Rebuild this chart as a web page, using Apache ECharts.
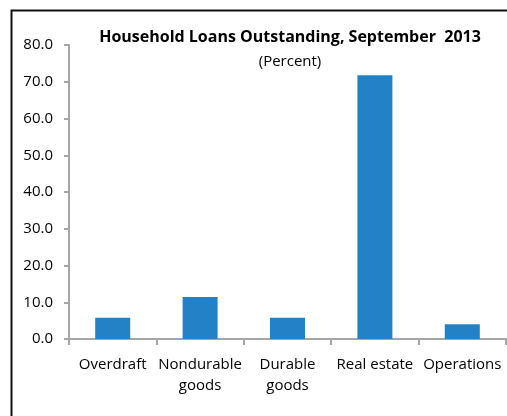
<!DOCTYPE html>
<html>
<head>
<meta charset="utf-8">
<script src="https://cdn.jsdelivr.net/npm/echarts@6/dist/echarts.min.js"></script>
<style>
  html, body { margin: 0; padding: 0; background: #fff; }
  #chart { width: 507px; height: 416px; }
</style>
</head>
<body>
<div id="chart"></div>
<script>
// Household loan composition (percent of total outstanding)
const categories = ['Overdraft', 'Nondurable\ngoods', 'Durable\ngoods', 'Real estate', 'Operations'];
const shares = [5.8, 11.4, 5.8, 71.8, 4.0];
const yTicks = { min: 0, max: 80, interval: 10 };

const FONT = '"Open Sans", "Noto Sans", sans-serif';
const chart = echarts.init(document.getElementById('chart'), null, { renderer: 'canvas' });

chart.setOption({
  animation: false,
  title: [
    {
      text: 'Household Loans Outstanding, September  2013',
      left: 285, top: 24, textAlign: 'center',
      textStyle: { fontFamily: FONT, fontSize: 16, fontWeight: 'bold', color: '#000' }
    },
    {
      text: '(Percent)',
      left: 285, top: 49, textAlign: 'center',
      textStyle: { fontFamily: FONT, fontSize: 15, fontWeight: 'normal', color: '#000' }
    }
  ],
  graphic: [{
    type: 'rect',
    shape: { x: 11.5, y: 10.5, width: 600, height: 600 },
    style: { fill: 'none', stroke: '#111', lineWidth: 2 },
    silent: true
  }],
  grid: { left: 69, right: 1, top: 45, bottom: 77, containLabel: false },
  xAxis: {
    type: 'category',
    data: categories,
    axisLine: { lineStyle: { color: '#a6a6a6', width: 2 } },
    axisTick: { show: true, length: 6, lineStyle: { color: '#a6a6a6', width: 2 } },
    axisLabel: {
      fontFamily: FONT, fontSize: 15, color: '#000', margin: 15,
      lineHeight: 21, interval: 0
    }
  },
  yAxis: {
    type: 'value',
    min: yTicks.min, max: yTicks.max, interval: yTicks.interval,
    splitLine: { show: false },
    axisLine: { show: true, lineStyle: { color: '#a6a6a6', width: 2 } },
    axisTick: { show: true, length: 5, lineStyle: { color: '#a6a6a6', width: 2 } },
    axisLabel: {
      fontFamily: FONT, fontSize: 15, color: '#000', margin: 16,
      formatter: v => v.toFixed(1)
    }
  },
  series: [{
    type: 'bar',
    data: shares,
    barWidth: 35,
    itemStyle: { color: '#2382c5' }
  }]
});
</script>
</body>
</html>
